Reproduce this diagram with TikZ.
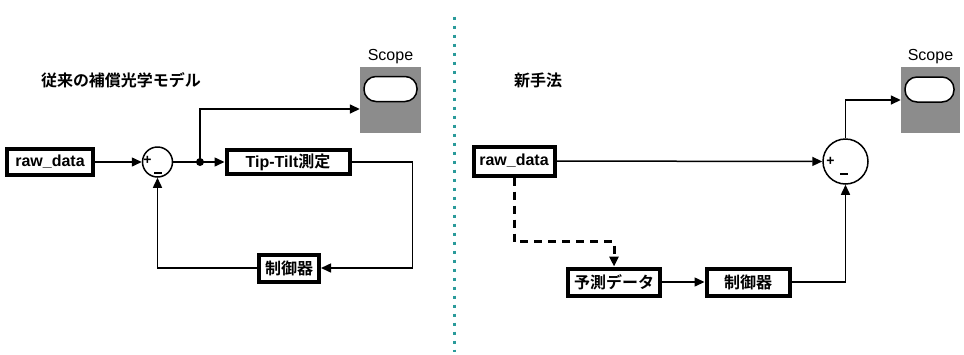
\documentclass[tikz,border=0pt]{standalone}
\usepackage{fontspec}
\setmainfont{Liberation Sans}
\newfontfamily\jpfont{Noto Sans CJK JP}[BoldFont={Noto Sans CJK JP Bold}]
\usetikzlibrary{arrows.meta}

\definecolor{divteal}{HTML}{2A9A9A}
\definecolor{scopegray}{HTML}{8C8C8C}

\begin{document}
\begin{tikzpicture}[x=1pt, y=-1pt, line join=miter,
    blk/.style={draw, line width=4pt, fill=white, inner sep=0pt,
        font=\fontsize{16}{19}\selectfont\bfseries},
    sumc/.style={circle, draw, line width=1.5pt, inner sep=0pt},
    sgn/.style={inner sep=0pt, font=\fontsize{14}{14}\selectfont\bfseries},
    sig/.style={line width=1.5pt, -{Triangle[length=10pt, width=9pt]}},
    dsig/.style={sig, line width=3pt, dash pattern=on 8pt off 6pt},
    scopebox/.style={fill=scopegray, inner sep=0pt, minimum width=61pt, minimum height=66pt},
    scopeoval/.style={draw, fill=white, line width=1.5pt, rounded corners=12pt,
        minimum width=53pt, minimum height=25pt},
    ttl/.style={font=\jpfont\fontsize{16}{19}\selectfont\bfseries}]

    \useasboundingbox (0,0) rectangle (964,354);

    % --- 1. 中央の区切り線 ---
    \coordinate (divtop) at (454,16.5);
    \coordinate (divbot) at (454,352);
    \draw[divteal, line width=3pt, dash pattern=on 3pt off 6pt] (divtop) -- (divbot);

    % --- 2. 左：従来の補償光学モデル ---
    \node[ttl] (ttl1) at (121,80) {従来の補償光学モデル};

    \node[blk, minimum width=86pt, minimum height=26pt] (raw1) at (50,162) {raw\_data};
    \node[sumc, minimum size=30pt] (sum1) at (157.5,162) {};
    \node[sgn] (plus1) at (147.5,160) {+};
    \draw[line width=2pt] (154,173) -- (162,173); % マイナス
    \coordinate (tap) at (200,162);
    \node[blk, minimum width=123pt, minimum height=24pt] (tt) at (288,162) {Tip-Tilt{\jpfont 測定}};
    \node[blk, minimum width=60pt, minimum height=27pt] (ctrl1) at (289,268) {\jpfont 制御器};

    % Scope (左)
    \node[scopebox] (scope1) at (390.5,100) {};
    \node[scopeoval] (oval1) at (390.5,89) {};
    \node[font=\fontsize{16}{19}\selectfont] (scl1) at (390.5,57) {Scope};

    \draw[sig] (raw1) -- (sum1);
    \draw[sig] (sum1) -- (tt);
    \fill (tap) circle (4pt);
    \draw[sig] (tap) |- ([yshift=-9pt]scope1.west);
    \draw[sig] (tt.east) -- ++(61,0) |- (ctrl1.east);
    \draw[sig] (ctrl1.west) -| (sum1.south);

    % --- 3. 右：新手法 ---
    \node[ttl] (ttl2) at (538,80) {新手法};

    \node[blk, minimum width=81pt, minimum height=29pt] (raw2) at (514,161) {raw\_data};
    \node[sumc, minimum size=45pt] (sum2) at (845.5,161.5) {};
    \node[sgn] (plus2) at (830.5,161) {+};
    \draw[line width=2pt] (840,174) -- (848,174); % マイナス
    \node[blk, minimum width=92pt, minimum height=27pt] (pred) at (614,282) {\jpfont 予測データ};
    \node[blk, minimum width=83pt, minimum height=27pt] (ctrl2) at (748,282) {\jpfont 制御器};

    % Scope (右)
    \node[scopebox, minimum width=59pt] (scope2) at (930.5,100) {};
    \node[scopeoval, minimum width=49pt] (oval2) at (929.5,89.5) {};
    \node[font=\fontsize{16}{19}\selectfont] (scl2) at (930.5,57) {Scope};

    \draw[sig] (raw2) -- (sum2);
    \draw[sig] (sum2.north) |- (scope2.west);
    \draw[dsig] (raw2.south) |- ([yshift=25pt]pred.north) -- (pred.north);
    \draw[sig] (pred) -- (ctrl2);
    \draw[sig] (ctrl2.east) -| (sum2.south);

\end{tikzpicture}
\end{document}
